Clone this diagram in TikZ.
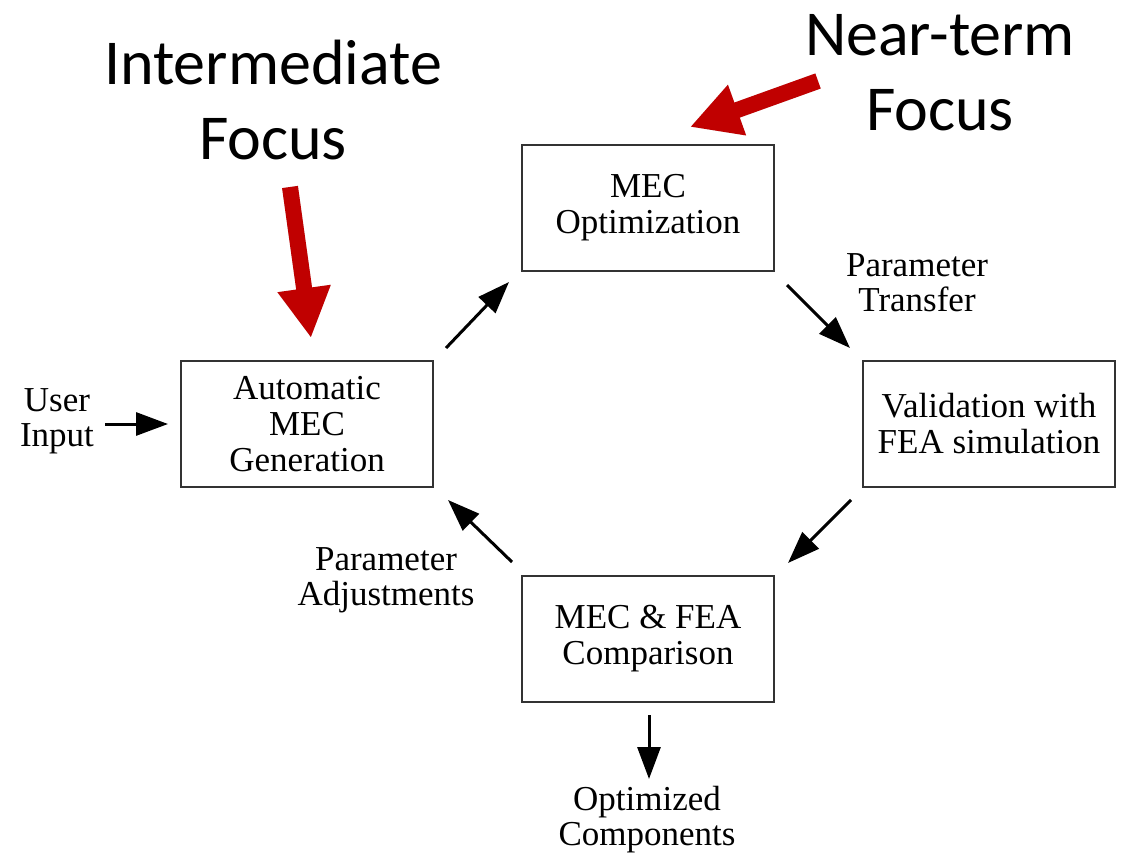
\documentclass[tikz,border=0pt]{standalone}
\usepackage{fontspec}
\setmainfont{Liberation Serif}
\newfontfamily\calib{Carlito}
\usetikzlibrary{arrows.meta}
\definecolor{focusred}{HTML}{C00000}
\tikzset{
  procbox/.style={draw=black!80, line width=1.4pt, minimum width=252pt, minimum height=126pt, align=center, inner sep=0pt, font=\fontsize{35}{36}\selectfont},
  lbl/.style={align=center, inner sep=0pt, font=\fontsize{35}{35}\selectfont},
  bigtxt/.style={align=center, inner sep=0pt, font=\calib\fontsize{64}{75}\selectfont},
  flow/.style={line width=3pt, -{Triangle[length=32pt,width=23pt]}},
  redarrow/.style={line width=16pt, focusred, -{Triangle[length=50pt,width=50pt]}},
  redshadow/.style={line width=16pt, black!35, opacity=0.4, -{Triangle[length=50pt,width=50pt]}}
}
\begin{document}
\begin{tikzpicture}[x=1pt,y=-1pt]
\useasboundingbox (0,0) rectangle (1124,856);
\fill[white] (0,0) rectangle (1124,856);
% boxes
\node[procbox] (opt) at (648,208) {MEC\\Optimization};
\node[procbox] (gen) at (307,424) {Automatic\\MEC\\Generation};
\node[procbox] (val) at (989,424) {Validation with\\FEA simulation};
\node[procbox] (cmp) at (648,639) {MEC \& FEA\\Comparison};
% labels
\node[lbl] (user) at (57,421) {User\\Input};
\node[lbl] (ptrans) at (917,283) {Parameter\\Transfer};
\node[lbl] (padj) at (386,580) {Parameter\\Adjustments};
\node[lbl] (optc) at (647,820) {Optimized\\Components};
\node[bigtxt] (inter) at (273,100) {Intermediate\\Focus};
\node[bigtxt] (near) at (940,73) {Near-term\\Focus};
% flow arrow end points
\coordinate (u1) at (105,424); \coordinate (u2) at (168,424);
\coordinate (a1) at (446,348); \coordinate (a2) at (509,282);
\coordinate (b1) at (787,285); \coordinate (b2) at (850,348);
\coordinate (c1) at (851,500); \coordinate (c2) at (788,563);
\coordinate (d1) at (512,562); \coordinate (d2) at (448,500);
\coordinate (e1) at (649,715); \coordinate (e2) at (649,779);
\draw[flow] (u1) -- (u2);
\draw[flow] (a1) -- (a2);
\draw[flow] (b1) -- (b2);
\draw[flow] (c1) -- (c2);
\draw[flow] (d1) -- (d2);
\draw[flow] (e1) -- (e2);
% red focus arrows
\coordinate (r1s) at (290,187); \coordinate (r1e) at (311,338);
\coordinate (r2s) at (818,81); \coordinate (r2e) at (690,127);
\draw[redshadow, shift={(3,3)}] (r1s) -- (r1e);
\draw[redshadow, shift={(3,3)}] (r2s) -- (r2e);
\draw[redarrow] (r1s) -- (r1e);
\draw[redarrow] (r2s) -- (r2e);
\end{tikzpicture}
\end{document}
